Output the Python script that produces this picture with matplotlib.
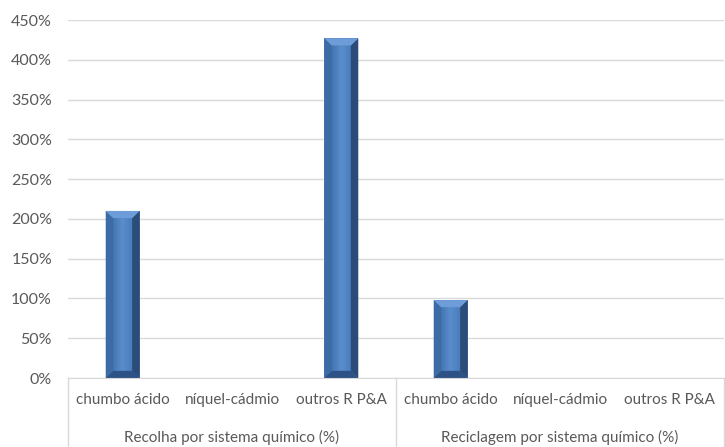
import numpy as np
import matplotlib
matplotlib.use("Agg")
import matplotlib.pyplot as plt
from matplotlib.patches import Polygon
from matplotlib.ticker import FuncFormatter

# dados
grupos = ["Recolha por sistema químico (%)", "Reciclagem por sistema químico (%)"]
sistemas = ["chumbo ácido", "níquel-cádmio", "outros R P&A"]
recolha = [210, 0, 427]
reciclagem = [98, 0, 0]

valores = recolha + reciclagem
labels = sistemas + sistemas

plt.rcParams['font.family'] = ['Lato', 'DejaVu Sans']
cinza = '#595959'

fig = plt.figure(figsize=(7.25, 4.47), dpi=100)
ax = fig.add_axes([68 / 725, 69 / 447, 656 / 725, 358 / 447])

x = np.arange(len(valores))
bars = ax.bar(x, valores, width=0.31, color='#4A7EBB', zorder=2)

ax.set_yticks(np.arange(0, 451, 50))
ax.yaxis.set_major_formatter(FuncFormatter(lambda v, p: f"{int(v)}%"))
ax.tick_params(axis='y', length=0, pad=11.5, labelsize=11.5, labelcolor=cinza)
ax.tick_params(axis='x', length=0, labelbottom=False)
ax.grid(axis='y', color='#D9D9D9', linewidth=1, zorder=0)
for s in ['top', 'right', 'left']:
    ax.spines[s].set_visible(False)
ax.spines['bottom'].set_color('#D9D9D9')
ax.spines['bottom'].set_zorder(3)

# efeito bisel das barras
cmap_face = matplotlib.colors.LinearSegmentedColormap.from_list(
    'f', ['#4576B3', '#5A8DCC', '#4A7DBB'])
for b in bars:
    h = b.get_height()
    if h <= 0:
        continue
    x0, w = b.get_x(), b.get_width()
    bx, by = w * 0.22, 9
    x1 = x0 + w
    grad = np.linspace(0, 1, 50).reshape(1, -1)
    ax.imshow(grad, extent=[x0 + bx, x1 - bx, by, h - by], aspect='auto',
              cmap=cmap_face, zorder=3)
    ax.add_patch(Polygon([[x0, 0], [x0 + bx, by], [x0 + bx, h - by], [x0, h]],
                         closed=True, color='#3D6BA5', zorder=3, lw=0))
    ax.add_patch(Polygon([[x1, 0], [x1 - bx, by], [x1 - bx, h - by], [x1, h]],
                         closed=True, color='#2B4C78', zorder=3, lw=0))
    ax.add_patch(Polygon([[x0, h], [x1, h], [x1 - bx, h - by], [x0 + bx, h - by]],
                         closed=True, color='#6E9CD8', zorder=3, lw=0))
    ax.add_patch(Polygon([[x0, 0], [x1, 0], [x1 - bx, by], [x0 + bx, by]],
                         closed=True, color='#2D5286', zorder=3, lw=0))

ax.set_xlim(-0.5, len(valores) - 0.5)
ax.set_ylim(0, 450)

# rótulos das categorias em dois níveis
trans = ax.get_xaxis_transform()
for i, lab in enumerate(labels):
    ax.text(i, -0.062, lab, transform=trans, ha='center', va='center',
            fontsize=11, color=cinza, clip_on=False)
for g, nome in enumerate(grupos):
    ax.text(g * 3 + 1, -0.167, nome, transform=trans, ha='center', va='center',
            fontsize=11, color=cinza, clip_on=False)
for xs in [-0.5, 2.5, 5.5]:
    ax.plot([xs, xs], [0, -0.2], transform=trans, color='#D9D9D9', lw=1,
            clip_on=False)

fig.savefig("out.png", dpi=100)
